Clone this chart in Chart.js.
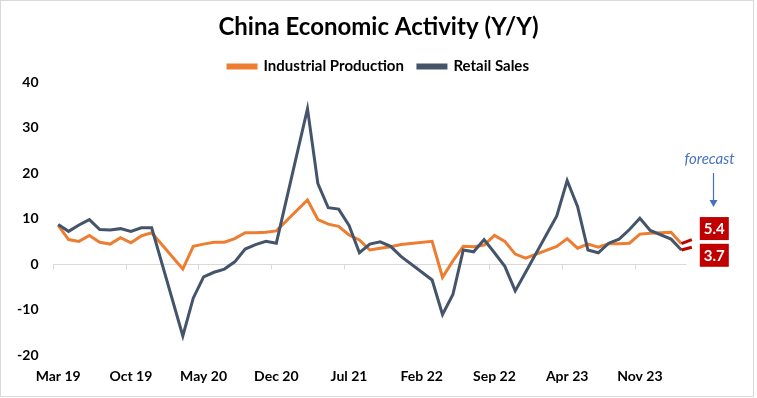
<!DOCTYPE html>
<html>
<head>
<meta charset="utf-8">
<script src="https://cdn.jsdelivr.net/npm/chart.js@4.4.1/dist/chart.umd.min.js"></script>
<style>
html,body{margin:0;padding:0;background:#fff;}
#wrap{width:757px;height:398px;position:relative;}
</style>
</head>
<body>
<div id="wrap"><canvas id="c" width="757" height="398"></canvas></div>
<script>
// ---- Data ----
const months = [
  'Mar 19','Apr 19','May 19','Jun 19','Jul 19','Aug 19','Sep 19','Oct 19','Nov 19','Dec 19',
  'Jan 20','Feb 20','Mar 20','Apr 20','May 20','Jun 20','Jul 20','Aug 20','Sep 20','Oct 20','Nov 20','Dec 20',
  'Jan 21','Feb 21','Mar 21','Apr 21','May 21','Jun 21','Jul 21','Aug 21','Sep 21','Oct 21','Nov 21','Dec 21',
  'Jan 22','Feb 22','Mar 22','Apr 22','May 22','Jun 22','Jul 22','Aug 22','Sep 22','Oct 22','Nov 22','Dec 22',
  'Jan 23','Feb 23','Mar 23','Apr 23','May 23','Jun 23','Jul 23','Aug 23','Sep 23','Oct 23','Nov 23','Dec 23',
  'Jan 24','Feb 24','Mar 24','Apr 24'
];
const industrialProduction = [
  8.5,5.4,5.0,6.3,4.8,4.4,5.8,4.7,6.2,6.9,
  null,null,-1.1,3.9,4.4,4.8,4.8,5.6,6.9,6.9,7.0,7.3,
  null,null,14.1,9.8,8.8,8.3,6.4,5.3,3.1,3.5,3.8,4.3,
  null,null,5.0,-2.9,0.7,3.9,3.8,4.2,6.3,5.0,2.2,1.3,
  null,null,3.9,5.6,3.5,4.4,3.7,4.5,4.5,4.6,6.6,6.8,
  null,7.0,4.5
];
const retailSales = [
  8.7,7.2,8.6,9.8,7.6,7.5,7.8,7.2,8.0,8.0,
  null,null,-15.8,-7.5,-2.8,-1.8,-1.1,0.5,3.3,4.3,5.0,4.6,
  null,null,34.2,17.7,12.4,12.1,8.5,2.5,4.4,4.9,3.9,1.7,
  null,null,-3.5,-11.1,-6.7,3.1,2.7,5.4,2.5,-0.5,-5.9,-1.8,
  null,null,10.6,18.4,12.7,3.1,2.5,4.6,5.5,7.6,10.1,7.4,
  null,5.5,3.1
];
const forecastMonth = 'Apr 24';
const forecastIP = 5.4;
const forecastRS = 3.7;
const yMin = -20, yMax = 40, yStep = 10;
const labelEvery = 7;

// ---- Build forecast segments (last actual -> forecast) ----
const lastActual = industrialProduction.length - 1;
const fIndex = months.indexOf(forecastMonth);
const ipForecastSeries = months.map((m, i) => i === lastActual ? industrialProduction[i] : (i === fIndex ? forecastIP : null));
const rsForecastSeries = months.map((m, i) => i === lastActual ? retailSales[i] : (i === fIndex ? forecastRS : null));

const FONT = 'Lato';
const ORANGE = '#ED7D31', SLATE = '#44546A', RED = '#C00000', BLUE = '#4472C4';

const decor = {
  id: 'decor',
  beforeDraw(chart) {
    const c = chart.ctx;
    c.save();
    c.fillStyle = '#fff';
    c.fillRect(0, 0, chart.width, chart.height);
    c.strokeStyle = '#d9d9d9';
    c.lineWidth = 1;
    c.strokeRect(0.5, 0.5, 753, 396);
    c.restore();
  },
  beforeDatasetsDraw(chart) {
    const c = chart.ctx, x = chart.scales.x, y = chart.scales.y;
    const half = (x.getPixelForValue(1) - x.getPixelForValue(0)) / 2;
    const y0 = Math.round(y.getPixelForValue(0)) + 0.5;
    const xl = chart.chartArea.left;
    const xr = x.getPixelForValue(lastActual) + half;
    c.save();
    c.strokeStyle = '#d9d9d9';
    c.lineWidth = 1;
    c.beginPath();
    c.moveTo(xl, y0); c.lineTo(xr, y0);
    for (let i = 0; i <= lastActual; i += labelEvery) {
      const tx = Math.round(x.getPixelForValue(i) - half) + 0.5;
      c.moveTo(tx, y0); c.lineTo(tx, y0 + 5);
    }
    c.stroke();
    c.restore();
  },
  afterDatasetsDraw(chart) {
    const c = chart.ctx;
    const drawBox = (dsIndex, text, dy) => {
      const meta = chart.getDatasetMeta(dsIndex);
      const pt = meta.data[fIndex];
      const bx = pt.x + 8, bw = 29, bh = 23;
      const by = pt.y + dy - bh / 2;
      c.fillStyle = RED;
      c.fillRect(bx, by, bw, bh);
      c.fillStyle = '#fff';
      c.font = 'bold 15px ' + FONT;
      c.textAlign = 'center';
      c.textBaseline = 'middle';
      c.fillText(text, bx + bw / 2, by + bh / 2 + 1);
      return {bx, by, bw, bh};
    };
    c.save();
    const top = drawBox(2, forecastIP.toFixed(1), -11);
    drawBox(3, forecastRS.toFixed(1), 8);
    // arrow + "forecast" note
    const ax = Math.round(top.bx + top.bw / 2 - 1.5) + 0.5;
    const tipY = top.by - 10;
    const startY = tipY - 34;
    c.strokeStyle = BLUE; c.fillStyle = BLUE; c.lineWidth = 1.2;
    c.beginPath(); c.moveTo(ax, startY); c.lineTo(ax, tipY - 6); c.stroke();
    c.beginPath(); c.moveTo(ax - 4, tipY - 7); c.lineTo(ax + 4, tipY - 7); c.lineTo(ax, tipY); c.closePath(); c.fill();
    c.font = 'italic 15px ' + FONT;
    c.textAlign = 'center';
    c.textBaseline = 'middle';
    c.fillText('forecast', ax - 4, startY - 14);
    c.restore();
  }
};

const tickFont = {family: FONT, size: 14, weight: 'bold'};

new Chart(document.getElementById('c'), {
  type: 'line',
  data: {
    labels: months,
    datasets: [
      {label: 'Industrial Production', data: industrialProduction, borderColor: ORANGE, backgroundColor: ORANGE, borderWidth: 3, pointRadius: 0, spanGaps: true, tension: 0, order: 2},
      {label: 'Retail Sales', data: retailSales, borderColor: SLATE, backgroundColor: SLATE, borderWidth: 3, pointRadius: 0, spanGaps: true, tension: 0, order: 1},
      {label: 'IP forecast', data: ipForecastSeries, borderColor: RED, backgroundColor: RED, borderWidth: 3, pointRadius: 0, spanGaps: true, tension: 0, order: 0},
      {label: 'RS forecast', data: rsForecastSeries, borderColor: RED, backgroundColor: RED, borderWidth: 3, pointRadius: 0, spanGaps: true, tension: 0, order: 0}
    ]
  },
  options: {
    responsive: false,
    animation: false,
    layout: {padding: 0},
    plugins: {
      title: {
        display: true,
        text: 'China Economic Activity (Y/Y)',
        color: '#000',
        font: {family: FONT, size: 24, weight: 'bold', lineHeight: 1.2},
        padding: {top: 13, bottom: 3.2}
      },
      legend: {
        display: true,
        maxHeight: 37.3,
        labels: {
          filter: item => item.datasetIndex < 2,
          sort: (a, b) => a.datasetIndex - b.datasetIndex,
          boxWidth: 28,
          boxHeight: 3,
          color: '#000',
          font: {family: FONT, size: 15, weight: 'bold'},
          padding: 14
        }
      },
      tooltip: {enabled: false}
    },
    scales: {
      x: {
        offset: true,
        grid: {display: false, drawTicks: false},
        border: {display: false},
        ticks: {
          autoSkip: false, maxRotation: 0, minRotation: 0, padding: 13, color: '#000', font: tickFont,
          callback: function (v, i) { return (i % labelEvery === 0 && i <= lastActual) ? this.getLabelForValue(v) : ''; }
        },
        afterFit: s => { s.height = 43; }
      },
      y: {
        min: yMin, max: yMax,
        grid: {display: false, drawTicks: false},
        border: {display: false},
        ticks: {stepSize: yStep, padding: 14.5, color: '#000', font: tickFont},
        afterFit: s => { s.width = 53; }
      },
      yr: {
        position: 'right', min: yMin, max: yMax,
        grid: {display: false, drawTicks: false},
        border: {display: false},
        ticks: {display: false},
        afterFit: s => { s.width = 60; }
      }
    }
  },
  plugins: [decor]
});
</script>
</body>
</html>
